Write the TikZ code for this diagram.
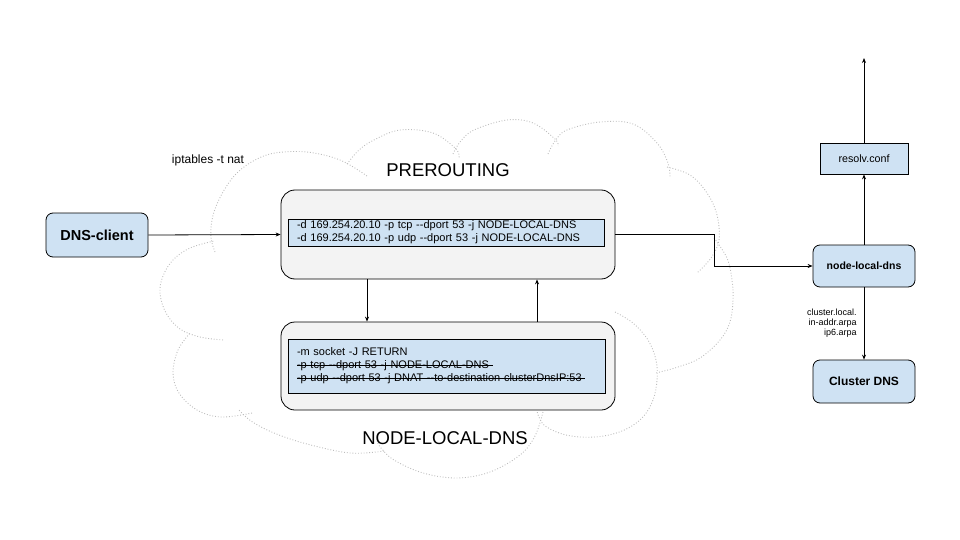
\documentclass[tikz,border=0pt]{standalone}
\usepackage{fontspec}
\setmainfont{Liberation Sans}
\usetikzlibrary{arrows.meta}
\definecolor{boxblue}{HTML}{CFE2F3}
\definecolor{boxgray}{HTML}{F3F3F3}
\definecolor{cloudgray}{HTML}{BDBDBD}
\newcommand\mystrike[1]{\leavevmode\setbox0\hbox{#1}\rlap{\raisebox{0.3em}{\rule{\wd0}{0.5pt}}}\box0}
\newcommand\dd{-\kern0pt-}
\begin{document}
\begin{tikzpicture}[x=1pt,y=-1pt,
  cloudline/.style={draw=cloudgray, line width=0.9pt, dash pattern=on 0.9pt off 1.9pt},
  arr/.style={draw=black, line width=0.8pt, -{Stealth[length=5pt,width=4pt]}},
  bluebox/.style={draw=black, line width=0.8pt, fill=boxblue, rounded corners=7pt, font=\bfseries, inner sep=0pt},
  plainbox/.style={draw=black, line width=0.8pt, fill=boxblue, inner sep=0pt},
  chainbox/.style={draw=black, line width=0.8pt, fill=boxgray, rounded corners=14pt, minimum width=334pt, inner sep=0pt},
  rulebox/.style={draw=black, line width=0.8pt, fill=boxblue, inner xsep=9pt, inner ysep=0pt, align=left, font=\fontsize{11}{13}\selectfont},
  title/.style={font=\fontsize{18.5}{22}\selectfont, inner sep=0pt}
]
\useasboundingbox (0,0) rectangle (960,540);

% cloud
\draw[cloudline] plot[smooth,tension=0.6] coordinates {(215,252) (211,238) (212,220) (217,204) (226,187) (238,172) (255,160) (275,153) (307,152) (340,160) (367,176)};
\draw[cloudline] plot[smooth,tension=0.6] coordinates {(347,164) (359,150) (374,140) (400,130) (433,133) (456,149) (459,158)};
\draw[cloudline] plot[smooth,tension=0.6] coordinates {(453,154) (460,142) (474,130) (507,120) (533,123) (555,139) (558,146)};
\draw[cloudline] plot[smooth,tension=0.6] coordinates {(548,154) (555,141) (567,130) (600,122) (633,124) (657,143) (668,163) (670,177)};
\draw[cloudline] plot[smooth,tension=0.6] coordinates {(667,167) (690,175) (707,193) (717,215) (719,240) (711,258) (697,273)};
\draw[cloudline] plot[smooth,tension=0.6] coordinates {(714,238) (727,258) (732,280) (733,300) (730,322) (720,340) (700,358) (678,367) (656,373)};
\draw[cloudline] plot[smooth,tension=0.6] coordinates {(615,312) (633,323) (648,340) (656,360) (657,380) (653,400) (642,418) (622,431) (595,437) (566,435) (544,425) (537,411)};
\draw[cloudline] plot[smooth,tension=0.6] coordinates {(543,412) (535,436) (520,455) (490,472) (457,478) (423,473) (394,460) (381,448) (377,441)};
\draw[cloudline] plot[smooth,tension=0.6] coordinates {(384,451) (350,453) (307,444) (274,433) (251,421) (238,409)};
\draw[cloudline] plot[smooth,tension=0.6] coordinates {(252,413) (221,417) (197,410) (179,393) (173,373) (178,350) (190,333)};
\draw[cloudline] plot[smooth,tension=0.6] coordinates {(223,340) (200,337) (180,329) (166,313) (160,293) (163,276) (173,260) (190,248) (214,241)};

% labels
\node[font=\fontsize{12}{14}\selectfont, inner sep=0pt] (iptlbl) at (208,160) {iptables -t nat};
\node[title] (pretitle) at (448,170) {PREROUTING};
\node[title] (nldtitle) at (445,438) {NODE-LOCAL-DNS};

% left client
\node[bluebox, minimum width=102pt, minimum height=44pt, font=\fontsize{14.5}{17}\selectfont\bfseries] (dns) at (97,235) {DNS-client};

% PREROUTING chain
\node[chainbox, minimum height=89pt] (pre) at (448,234.5) {};
\node[rulebox, text width=298pt, minimum height=27pt] (prerules) at (446,232.5)
  {-d 169.254.20.10 -p tcp \dd dport 53 -j NODE-LOCAL-DNS\\
   -d 169.254.20.10 -p udp \dd dport 53 -j NODE-LOCAL-DNS};

% NODE-LOCAL-DNS chain
\node[chainbox, minimum height=88pt] (chain) at (448,366) {};
\node[rulebox, text width=299pt, minimum height=54pt] (chainrules) at (446.5,366)
  {-m socket -J RETURN\\
   \mystrike{-p tcp \dd dport 53 -j NODE-LOCAL-DNS }\\
   \mystrike{-p udp \dd dport 53 -j DNAT \dd to-destination clusterDnsIP:53 }};

% right side
\node[bluebox, minimum width=102pt, minimum height=42pt, font=\fontsize{10.5}{12}\selectfont\bfseries] (nld) at (864,266) {node-local-dns};
\node[plainbox, minimum width=88pt, minimum height=31pt, font=\fontsize{10.7}{12}\selectfont] (resolv) at (864,158.5) {resolv.conf};
\node[bluebox, minimum width=102pt, minimum height=43pt, font=\fontsize{12}{14}\selectfont\bfseries] (cdns) at (864,381.5) {Cluster DNS};
\coordinate (top) at (864,58);

% connectors
\draw[arr] (dns.east) -- (pre.west);
\draw[arr] (pre.east) -- ++(99,0) |- (nld.west);
\draw[arr] ([xshift=-81pt]pre.south) -- ([xshift=-81pt]chain.north);
\draw[arr] ([xshift=89pt]chain.north) -- ([xshift=89pt]pre.south);
\draw[arr] (nld.north) -- (resolv.south);
\draw[arr] (resolv.north) -- (top);
\draw[arr] (nld.south) -- (cdns.north)
  node[pos=0.5, left=7pt, align=right, font=\fontsize{9}{10}\selectfont, inner sep=0pt] (zones) {cluster.local.\\in-addr.arpa\\ip6.arpa};
\end{tikzpicture}
\end{document}
